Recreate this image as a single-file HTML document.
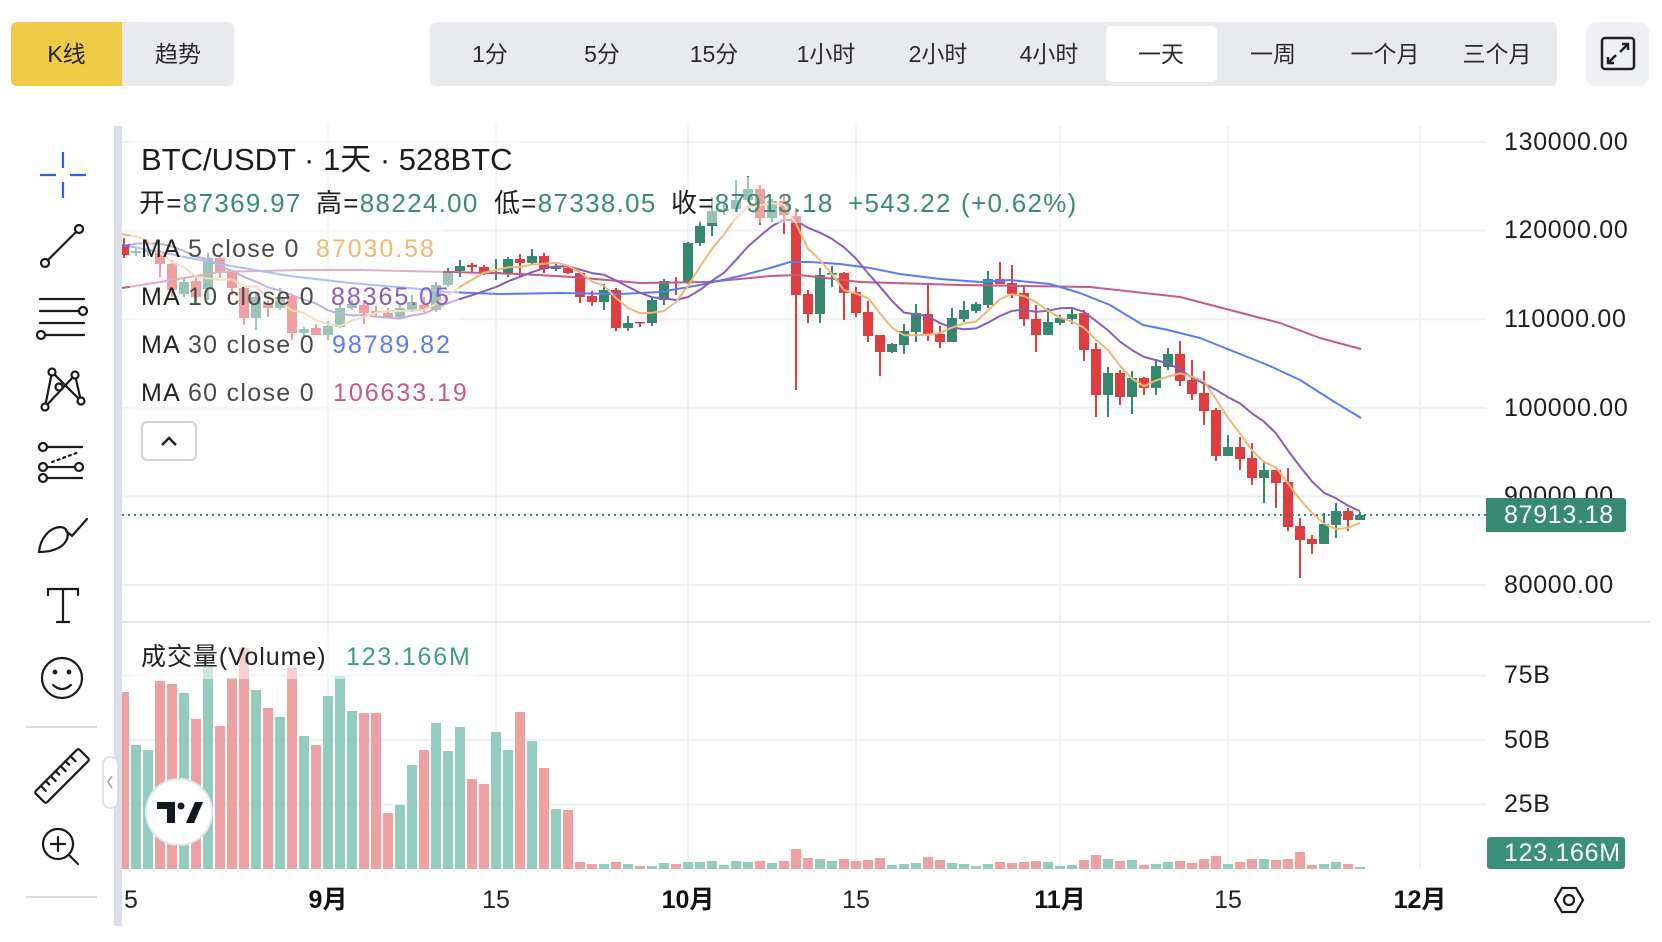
<!DOCTYPE html>
<html><head><meta charset="utf-8">
<style>
*{margin:0;padding:0;box-sizing:border-box}
html,body{width:1662px;height:942px;overflow:hidden;background:#fff}
body{position:relative;font-family:"Liberation Sans","Noto Sans CJK SC",sans-serif;color:#1f1f1f}
.a{position:absolute;white-space:nowrap}
.tb{position:absolute;top:22px;height:64px;line-height:64px;text-align:center;font-size:23px;color:#2a2a2a}
.pl{position:absolute;left:1504px;height:30px;line-height:30px;font-size:25px;letter-spacing:0.7px;color:#1f1f1f;white-space:nowrap}
.tl{position:absolute;top:885px;height:30px;line-height:30px;font-size:25px;color:#222;text-align:center;width:80px;white-space:nowrap}
.tl b{font-weight:bold;color:#111}
.ohlc{position:absolute;top:183px;height:40px;line-height:40px;font-size:26px;letter-spacing:1.3px;white-space:nowrap;color:#1f1f1f}
.g{color:#3a8c73}
.ma{position:absolute;height:40px;line-height:40px;font-size:25px;letter-spacing:1.3px;white-space:nowrap;color:#4a4a4a}
.mv{letter-spacing:1.95px}
.ma b{font-weight:normal;color:#222}
</style></head><body>

<svg id="s" class="a" style="left:0;top:0" width="1662" height="942" viewBox="0 0 1662 942" xmlns="http://www.w3.org/2000/svg">
<defs>
<clipPath id="cp"><rect x="122" y="126" width="1364" height="496"/></clipPath>
<clipPath id="cv"><rect x="122" y="622" width="1364" height="247"/></clipPath>
</defs>
<g id="grid"></g>
<g id="candles" clip-path="url(#cp)"></g>
<g id="mas" clip-path="url(#cp)" fill="none" stroke-width="2" stroke-linejoin="round"></g>
<g id="vols" clip-path="url(#cv)"></g>
<line x1="122" y1="515" x2="1486" y2="515" stroke="#35886f" stroke-width="2" stroke-dasharray="2 4"/>
<g fill="#fff" fill-opacity="0.5">
<rect x="130" y="128" width="390" height="49"/>
<rect x="130" y="177" width="952" height="46"/>
<rect x="130" y="226" width="313" height="47"/>
<rect x="130" y="273" width="329" height="48"/>
<rect x="130" y="321" width="329" height="48"/>
<rect x="130" y="369" width="346" height="47"/>
<rect x="130" y="635" width="348" height="44"/>
</g>
<rect x="114" y="126" width="8" height="800" fill="#dcdfe8"/>
<line x1="122" y1="622" x2="1650" y2="622" stroke="#e1e4ea" stroke-width="2"/>
<rect x="1486" y="498" width="140" height="34" rx="3" fill="#378b72"/>
<rect x="1487" y="837" width="138" height="32" rx="3" fill="#3a9078"/>
<rect x="103" y="757" width="15" height="51" rx="7" fill="#fff" stroke="#d5d9e1" stroke-width="1.5"/>
<polyline points="112,776 108,782 112,788" fill="none" stroke="#9aa0ab" stroke-width="1.5"/>
<circle cx="179" cy="812" r="33" fill="#fff" stroke="#e3e6ec" stroke-width="2"/>
<polygon points="157,802 175,802 175,823 167,823 167,809 157,809" fill="#131722"/>
<circle cx="181" cy="806" r="3.5" fill="#131722"/>
<polygon points="186,823 195,802 203,802 194,823" fill="#131722"/>
<rect x="142" y="422" width="54" height="38" rx="5" fill="#fff" stroke="#cfd3db" stroke-width="2"/>
<polyline points="162,445 169,438 176,445" fill="none" stroke="#222" stroke-width="2.5"/>
<g fill="none" stroke="#1a1a1a" stroke-width="2.2" stroke-linecap="round">
<g stroke="#2f5cff" stroke-width="2.2" stroke-linecap="butt">
<path d="M40 175H56M70 175H86M63 152V168M63 182V198"/>
</g>
<circle cx="45" cy="263" r="4"/><circle cx="79" cy="229" r="4"/><path d="M48 260L76 232"/>
<path d="M40 299H84M40 311H79M40 323H84M46 335H84"/><circle cx="83" cy="311" r="4"/><circle cx="41" cy="335" r="4"/>
<path d="M45 407L52 372L81 401L75 375L45 407"/>
<circle cx="52" cy="372" r="3.5" fill="#fff"/><circle cx="75" cy="375" r="3.5" fill="#fff"/><circle cx="59" cy="387" r="3.5" fill="#fff"/><circle cx="45" cy="407" r="3.5" fill="#fff"/><circle cx="81" cy="401" r="3.5" fill="#fff"/>
<path d="M47 447H82M47 467H75M47 478H82"/><path d="M52 462L79 452" stroke-dasharray="2 4"/>
<circle cx="43" cy="447" r="4"/><circle cx="43" cy="467" r="4"/><circle cx="79" cy="467" r="4"/><circle cx="43" cy="478" r="4"/>
<path d="M39 552C40 540 48 528 60 527C67 527 70 534 66 541C62 548 52 552 39 552Z"/><path d="M66 531L72 536L87 519"/>
<path d="M48 595V589H78V595M63 589V622M57 622H69"/>
<circle cx="62" cy="678" r="20"/><path d="M53 685Q62 693 71 685"/>
<circle cx="55" cy="672" r="1.3" fill="#1a1a1a"/><circle cx="69" cy="672" r="1.3" fill="#1a1a1a"/>
<g transform="translate(62 776) rotate(-45)"><rect x="-31" y="-8" width="62" height="16" rx="2"/><path d="M-22 -8V-1M-15 -8V-3M-8 -8V-1M-1 -8V-3M6 -8V-1M13 -8V-3M20 -8V-1"/></g>
<circle cx="58" cy="844" r="15"/><path d="M58 837V851M51 844H65M69 855L78 864"/>
<path d="M1555 900L1562 888H1576L1583 900L1576 912H1562Z"/><circle cx="1569" cy="900" r="5"/>
</g>
<g stroke="#d7dae2" stroke-width="2"><path d="M26 727H97M26 897H97"/></g>
</svg>

<div class="tb" style="left:11px;width:111px;background:#f0cb45;border-radius:6px 0 0 6px;color:#222">K线</div>
<div class="tb" style="left:122px;width:112px;background:#e9eaee;border-radius:0 6px 6px 0">趋势</div>
<div class="a" style="left:430px;top:22px;width:1127px;height:64px;background:#e9eaee;border-radius:6px"></div>
<div class="a" style="left:1106px;top:26px;width:111px;height:56px;background:#fff;border-radius:5px"></div>
<div class="tb" style="left:434px;width:112px">1分</div>
<div class="tb" style="left:546px;width:112px">5分</div>
<div class="tb" style="left:658px;width:112px">15分</div>
<div class="tb" style="left:770px;width:112px">1小时</div>
<div class="tb" style="left:882px;width:112px">2小时</div>
<div class="tb" style="left:993px;width:112px">4小时</div>
<div class="tb" style="left:1105px;width:112px">一天</div>
<div class="tb" style="left:1217px;width:112px">一周</div>
<div class="tb" style="left:1329px;width:112px">一个月</div>
<div class="tb" style="left:1441px;width:112px">三个月</div>
<div class="a" style="left:1586px;top:22px;width:63px;height:64px;background:#eef0f3;border-radius:10px"></div>
<svg class="a" style="left:1586px;top:22px" width="63" height="64" viewBox="1586 22 63 64" fill="none" stroke="#222" stroke-width="2.5">
<rect x="1602" y="38" width="32" height="31" rx="3"/>
<path d="M1620 52L1628 44M1622 44H1628V50M1616 55L1608 63M1608 57V63H1614"/>
</svg>

<div class="a" style="left:141px;top:140px;height:40px;line-height:40px;font-size:31px;color:#1c1c1c">BTC/USDT · 1天 · 528BTC</div>
<div class="ohlc" style="left:139px">开=<span class="g">87369.97</span></div>
<div class="ohlc" style="left:316px">高=<span class="g">88224.00</span></div>
<div class="ohlc" style="left:494px">低=<span class="g">87338.05</span></div>
<div class="ohlc" style="left:671px">收=<span class="g">87913.18</span></div>
<div class="ohlc g" style="left:848px">+543.22</div>
<div class="ohlc g" style="left:961px">(+0.62%)</div>

<div class="ma" style="left:141px;top:229px"><b>MA</b> 5 close 0</div>
<div class="ma mv" style="left:316px;top:229px;color:#efb872">87030.58</div>
<div class="ma" style="left:141px;top:277px"><b>MA</b> 10 close 0</div>
<div class="ma mv" style="left:331px;top:277px;color:#8a5cc0">88365.05</div>
<div class="ma" style="left:141px;top:325px"><b>MA</b> 30 close 0</div>
<div class="ma mv" style="left:332px;top:325px;color:#5a7cf6">98789.82</div>
<div class="ma" style="left:141px;top:373px"><b>MA</b> 60 close 0</div>
<div class="ma mv" style="left:333px;top:373px;color:#c85a85">106633.19</div>

<div class="ma" style="left:141px;top:637px;color:#222;letter-spacing:0.95px">成交量(Volume)</div>
<div class="ma" style="left:346px;top:637px;color:#3d9c84;letter-spacing:1.8px">123.166M</div>

<div class="pl" style="top:127px">130000.00</div>
<div class="pl" style="top:215px">120000.00</div>
<div class="pl" style="top:304px">110000.00</div>
<div class="pl" style="top:393px">100000.00</div>
<div class="pl" style="top:481px">90000.00</div>
<div class="pl" style="top:570px">80000.00</div>
<div class="a" style="left:1486px;top:498px;width:140px;height:34px;background:#378b72;border-radius:0 3px 3px 0"></div>
<div class="pl" style="top:500px;color:#fff">87913.18</div>
<div class="pl" style="top:660px">75B</div>
<div class="pl" style="top:725px">50B</div>
<div class="pl" style="top:789px">25B</div>
<div class="pl" style="top:838px;color:#fff">123.166M</div>

<div class="a" style="left:125px;top:885px;width:40px;height:30px;overflow:hidden">
<div class="tl" style="left:-41px;top:0">15</div></div>
<div class="tl" style="left:288px"><b>9月</b></div>
<div class="tl" style="left:456px">15</div>
<div class="tl" style="left:648px"><b>10月</b></div>
<div class="tl" style="left:816px">15</div>
<div class="tl" style="left:1020px"><b>11月</b></div>
<div class="tl" style="left:1188px">15</div>
<div class="tl" style="left:1380px"><b>12月</b></div>

<script>
(function(){
var O=[247,253,252,253,264,294,281,289,258,271,288,318,303,308,296,333,328,335,327,308,305,311,313,317,310,305,310,285,271,265,267,272,273,259,263,256,269,268,273,296,302,290,328,322,323,300,282,283,243,226,211,209,200,189,218,201,216,294,314,273,273,292,312,335,352,345,332,314,334,342,319,311,305,279,283,293,319,335,323,319,313,349,395,373,397,378,388,367,354,380,393,410,456,447,458,478,470,482,526,539,544,525,511,520];
var C=[255,251,250,264,290,282,297,258,272,288,318,297,308,297,333,329,335,326,308,304,313,313,317,308,302,309,285,272,266,267,273,272,259,263,256,269,267,273,297,302,290,328,323,323,300,281,283,243,226,211,209,200,189,218,201,215,295,314,275,273,293,313,336,352,344,331,313,334,342,318,310,304,279,284,294,319,335,322,318,314,350,395,373,397,378,388,366,354,381,394,411,456,447,459,478,470,483,527,540,544,524,511,520,515];
var H=[238,248,247,250,260,278,277,253,255,270,287,293,300,288,295,327,324,321,303,300,300,306,308,305,295,297,282,268,260,263,265,259,257,254,249,253,264,267,272,291,284,288,316,322,297,279,277,242,221,197,204,180,176,185,199,195,208,290,268,266,272,287,301,335,343,324,304,284,326,308,301,302,271,262,265,287,305,308,315,308,310,343,367,370,371,377,359,348,341,360,371,408,435,437,443,462,470,468,518,535,513,503,508,512];
var L=[258,256,256,277,297,297,300,300,278,295,325,330,317,310,340,337,335,340,328,310,324,317,318,318,312,312,312,287,277,273,275,280,277,277,264,273,271,274,303,306,310,331,331,327,326,305,295,284,246,236,215,211,202,225,222,234,390,323,323,287,320,317,342,376,353,354,342,341,348,342,322,313,308,284,298,326,352,335,325,324,361,417,417,405,414,395,395,370,386,400,425,461,456,470,485,503,508,531,578,554,544,538,531,520];
var V=[692,745,750,681,684,693,719,667,726,678,648,690,708,717,668,736,745,696,676,711,713,713,813,805,765,750,723,751,727,779,784,732,750,712,741,768,809,810,862,864,864,862,864,866,866,863,864,862,862,861,865,861,862,861,863,861,849,858,859,861,859,861,860,858,865,864,863,857,860,863,864,866,864,862,863,862,861,862,866,865,860,855,859,861,860,865,864,862,861,863,859,856,864,862,859,859,860,859,852,865,864,862,864,867];
var R='#de3e40',G='#35886f',RV='#eda1a3',GV='#93ccbf';
var g='';
var hy=[142,230.6,319.2,407.8,496.4,585];
hy.forEach(function(y){g+='<line x1="122" y1="'+y+'" x2="1486" y2="'+y+'" stroke="#eff0f2" stroke-width="2"/>';});
[675.5,740,804.5].forEach(function(y){g+='<line x1="122" y1="'+y+'" x2="1486" y2="'+y+'" stroke="#eff0f2" stroke-width="2"/>';});
[328,496,688,856,1060,1228,1420].forEach(function(x){g+='<line x1="'+x+'" y1="126" x2="'+x+'" y2="869" stroke="#eff0f2" stroke-width="2"/>';});
document.getElementById('grid').innerHTML=g;
var c='',v='';
for(var i=0;i<104;i++){
 var x=124+12*i,o=O[i],cl=C[i];
 var up=cl<=o;
 var col=up?G:R;
 var t=Math.min(o,cl),b=Math.max(o,cl),h=Math.max(b-t,1.5);
 c+='<rect x="'+(x-1)+'" y="'+H[i]+'" width="2" height="'+(L[i]-H[i])+'" fill="'+col+'"/>';
 c+='<rect x="'+(x-5)+'" y="'+t+'" width="10" height="'+h+'" fill="'+col+'"/>';
 v+='<rect x="'+(x-5)+'" y="'+V[i]+'" width="10" height="'+(869-V[i])+'" fill="'+(up?GV:RV)+'"/>';
}
document.getElementById('candles').innerHTML=c;
document.getElementById('vols').innerHTML=v;
var prior=[283,275,253,260,262,237,242,229,201,246];
var all=prior.concat(C);
function ma(n){var p=[];for(var k=9;k<all.length;k++){var s=0;for(var j=k-n+1;j<=k;j++)s+=all[j];p.push((124+12*(k-10))+','+(s/n).toFixed(1));}return p.join(' ');}
var m30='122,245 160,252 220,264 290,276 350,283 420,289 447,292 500,294 560,293 620,294 660,292 700,285 740,276 770,268 790,262 810,262 840,264 870,268 900,274 940,279 980,282 1010,280 1050,284 1080,293 1110,305 1143,325 1168,330 1200,338 1230,350 1270,366 1300,380 1333,401 1361,418';
var m60='122,288 160,282 220,272 300,270 360,270 450,272 520,274 573,277 640,283 707,282 740,279 770,276 800,275 860,282 960,285 1090,287 1180,297 1230,310 1280,323 1320,338 1361,349';
var m='';
m+='<polyline points="'+m60+'" stroke="#c85a85"/>';
m+='<polyline points="'+m30+'" stroke="#5a7cf6"/>';
m+='<polyline points="'+ma(10)+'" stroke="#8a5cc0"/>';
m+='<polyline points="'+ma(5)+'" stroke="#f0b872"/>';
document.getElementById('mas').innerHTML=m;
})();
</script>
</body></html>
